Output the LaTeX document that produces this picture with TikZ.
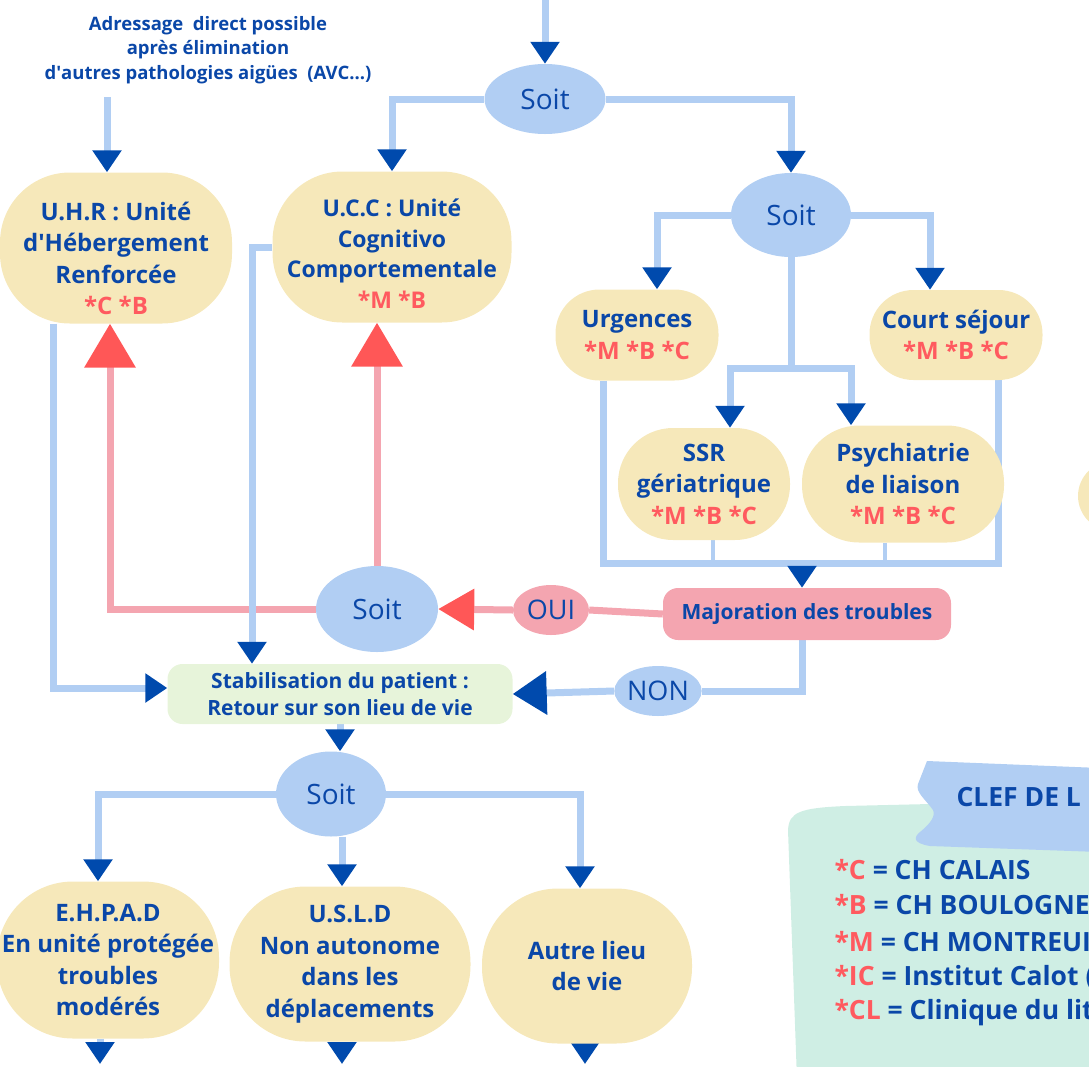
\documentclass[tikz,border=0pt]{standalone}
\usepackage{fontspec}
\setmainfont{Open Sans}
\usepackage{tikz}
\usetikzlibrary{shapes, arrows.meta, positioning, calc}
\usetikzlibrary{backgrounds}

\definecolor{pillyellow}{HTML}{F6E8BA}
\definecolor{soitblue}{HTML}{B1CEF3}
\definecolor{arrowblue}{HTML}{004AAD}
\definecolor{txtblue}{HTML}{0A47A8}
\definecolor{starred}{HTML}{FF5A5F}
\definecolor{pinkfill}{HTML}{F4A5B0}
\definecolor{redtip}{HTML}{FF5757}
\definecolor{stabgreen}{HTML}{E7F4DA}
\definecolor{mint}{HTML}{CFEEE4}

\newcommand{\etab}[1]{\textcolor{starred}{#1}}

\tikzset{
    pill/.style={ % Yellow services
    fill=pillyellow, text=txtblue,
    font=\bfseries\fontsize{24}{31.5}\selectfont,
    align=center, inner sep=0pt,
    rounded corners=#1},
    pill/.default=45pt,
    soit/.style={ % Choice ellipses
    ellipse, fill=soitblue, text=txtblue,
    font=\fontsize{28}{34}\selectfont, inner sep=0pt},
    answer/.style={ellipse, text=txtblue,
    font=\fontsize{27}{32}\selectfont, inner sep=0pt,
    minimum width=76pt, minimum height=50pt},
    link/.style={draw=soitblue, line width=7pt},
    pinklink/.style={draw=pinkfill, line width=7pt},
    blueto/.style={-{Triangle[length=22pt, width=28pt, color=arrowblue]}}, % Dark blue heads
    bigblueto/.style={-{Triangle[length=34pt, width=42pt, color=arrowblue]}},
    redto/.style={-{Triangle[length=44pt, width=50pt, color=redtip]}},
    smallredto/.style={-{Triangle[length=36pt, width=40pt, color=redtip]}},
    keyline/.style={anchor=west, text=txtblue,
    font=\bfseries\fontsize{26.5}{32}\selectfont}}

\begin{document}
\begin{tikzpicture}[x=1pt, y=-1pt]
    \useasboundingbox (0,0) rectangle (1089,1066);
    \clip (0,0) rectangle (1089,1066);

    % Legend
    \fill[mint] (788,830) .. controls (789,812) and (800,808) .. (845,806) -- (1100,800) -- (1100,1080) -- (797,1080) -- cycle;
    \fill[soitblue] (927,761) -- (1100,768) -- (1100,852) -- (930,846)
        .. controls (912,843) and (914,837) .. (920,832)
        .. controls (930,824) and (936,816) .. (933,810)
        .. controls (926,800) and (915,792) .. (918,784) -- cycle;
    \node[keyline] (keytitle) at (953,797) {CLEF DE L};
    \node[keyline] (keyC) at (831,870) {\etab{*C} = CH CALAIS};
    \node[keyline] (keyB) at (831,905) {\etab{*B} = CH BOULOGNE};
    \node[keyline] (keyM) at (831,942) {\etab{*M} = CH MONTREUIL};
    \node[keyline] (keyIC) at (831,978) {\etab{*IC} = Institut Calot (};
    \node[keyline] (keyCL) at (831,1013) {\etab{*CL} = Clinique du lit};

    % First choice
    \node[text=txtblue, align=center, font=\bfseries\fontsize{18.5}{24.5}\selectfont] (note) at (208,50)
        {Adressage\ \ direct possible\\après élimination\\d\textquotesingle autres pathologies aigües\ \ (AVC...)};
    \node[soit, minimum width=121pt, minimum height=70pt] (soitA) at (545,99) {Soit};
    \node[pill=70pt, minimum width=232pt, minimum height=151pt] (uhr) at (116,248)
        {\rule{0pt}{39pt}U.H.R : Unité\\d\textquotesingle Hébergement\\Renforcée\\\etab{*C *B}};
    \node[pill=70pt, minimum width=239pt, minimum height=151pt, font=\bfseries\fontsize{23}{30.5}\selectfont] (ucc) at (392,247)
        {\rule{0pt}{31pt}U.C.C : Unité\\Cognitivo\\Comportementale\\\etab{*M *B}};

    % Hospital services
    \node[soit, minimum width=120pt, minimum height=84pt] (soitB) at (791,215) {Soit};
    \node[pill=44pt, minimum width=163pt, minimum height=91pt] (urg) at (637,335)
        {Urgences\\\etab{*M *B *C}};
    \node[pill=44pt, minimum width=173pt, minimum height=90pt] (court) at (956,335)
        {Court séjour\\\etab{*M *B *C}};
    \node[pill=55pt, minimum width=172pt, minimum height=112pt] (ssr) at (704,484)
        {SSR\\gériatrique\\\etab{*M *B *C}};
    \node[pill=57pt, minimum width=202pt, minimum height=117pt] (psych) at (903,484)
        {Psychiatrie\\de liaison\\\etab{*M *B *C}};
    \node[pill=35pt, minimum width=154pt, minimum height=70pt] (cutoff) at (1155,496) {};

    % Worsening
    \node[fill=pinkfill, text=txtblue, rounded corners=15pt, minimum width=288pt, minimum height=52pt,
        font=\bfseries\fontsize{21}{26}\selectfont] (major) at (807,614) {Majoration des troubles};
    \node[answer, fill=pinkfill] (oui) at (551,610) {OUI};
    \node[soit, minimum width=122pt, minimum height=86pt] (soitC) at (377,609) {Soit};
    \node[answer, fill=soitblue] (non) at (658,691) {NON};
    \node[fill=stabgreen, text=txtblue, rounded corners=15pt, minimum width=345pt, minimum height=60pt,
        align=center, font=\bfseries\fontsize{21}{27}\selectfont] (stab) at (340,694)
        {Stabilisation du patient :\\Retour sur son lieu de vie};

    % Places of life
    \node[soit, minimum width=110pt, minimum height=85pt] (soitD) at (331,794) {Soit};
    \node[pill=76pt, minimum width=222pt, minimum height=157pt] (ehpad) at (108,960)
        {E.H.P.A.D\\En unité protégée\\troubles\\modérés};
    \node[pill=76pt, minimum width=241pt, minimum height=155pt] (usld) at (350,964)
        {U.S.L.D\\Non autonome\\dans les\\déplacements};
    \node[pill=76pt, minimum width=210pt, minimum height=155pt] (autre) at (587,966)
        {Autre lieu\\de vie};

    \coordinate (topin) at (545,-2);
    \coordinate (notein) at (107,97);
    \coordinate (forkB) at (791,368);
    \coordinate (joinB) at (802,563);
    \coordinate (outE) at (100,1064);
    \coordinate (outU) at (342,1064);
    \coordinate (outA) at (585,1064);

    % Connectors
    \begin{scope}[on background layer]
        \draw[link, blueto] (topin) -- (soitA.north);
        \draw[link, blueto] (notein) -- (notein |- uhr.north);
        \draw[link, blueto] (soitA.west) -| (ucc.north);
        \draw[link, blueto] (soitA.east) -| (soitB.north);
        \draw[link, blueto] (soitB.west) -| ([xshift=20pt]urg.north);
        \draw[link, blueto] (soitB.east) -| ([xshift=-26pt]court.north);
        \draw[link] (soitB.south) -- (forkB);
        \draw[link, blueto] (forkB) -| ([xshift=26pt]ssr.north);
        \draw[link, blueto] (forkB) -| ([xshift=-52pt]psych.north);
        \draw[link] ([xshift=-34pt]urg.south) |- (joinB);
        \draw[link] ([xshift=42pt]court.south) |- (joinB);
        \draw[link, line width=4pt] ([xshift=9pt]ssr.south) |- (joinB);
        \draw[link, line width=4pt] ([xshift=-18pt]psych.south) |- (joinB);
        \draw[link, blueto] (joinB) -- (joinB |- major.north);

        \draw[pinklink] (major.west) -- (oui.east);
        \draw[pinklink, smallredto] (oui.west) -- (soitC.east);
        \draw[pinklink, redto] (soitC.west) -| ([xshift=-6pt]uhr.south);
        \draw[pinklink, redto] (soitC.north) -- (soitC.north |- ucc.south);

        \draw[link, blueto] ([xshift=-63pt]uhr.south) |- ([yshift=6pt]stab.west);
        \draw[link, blueto] (ucc.west) -| ([xshift=-88pt]stab.north);
        \draw[link] ([xshift=-5pt]major.south) |- (non.east);
        \draw[link, bigblueto] (non.west) -- (stab.east);

        \draw[link, blueto] (stab.south) -- (stab.south |- soitD.north);
        \draw[link, blueto] (soitD.west) -| ([xshift=-10pt]ehpad.north);
        \draw[link, blueto] ([xshift=11pt]soitD.south) -- ([xshift=-8pt]usld.north);
        \draw[link, blueto] (soitD.east) -| ([xshift=-7pt]autre.north);
        \draw[link, blueto] ([xshift=-8pt]ehpad.south) -- (outE);
        \draw[link, blueto] ([xshift=-8pt]usld.south) -- (outU);
        \draw[link, blueto] ([xshift=-2pt]autre.south) -- (outA);
    \end{scope}
\end{tikzpicture}
\end{document}
